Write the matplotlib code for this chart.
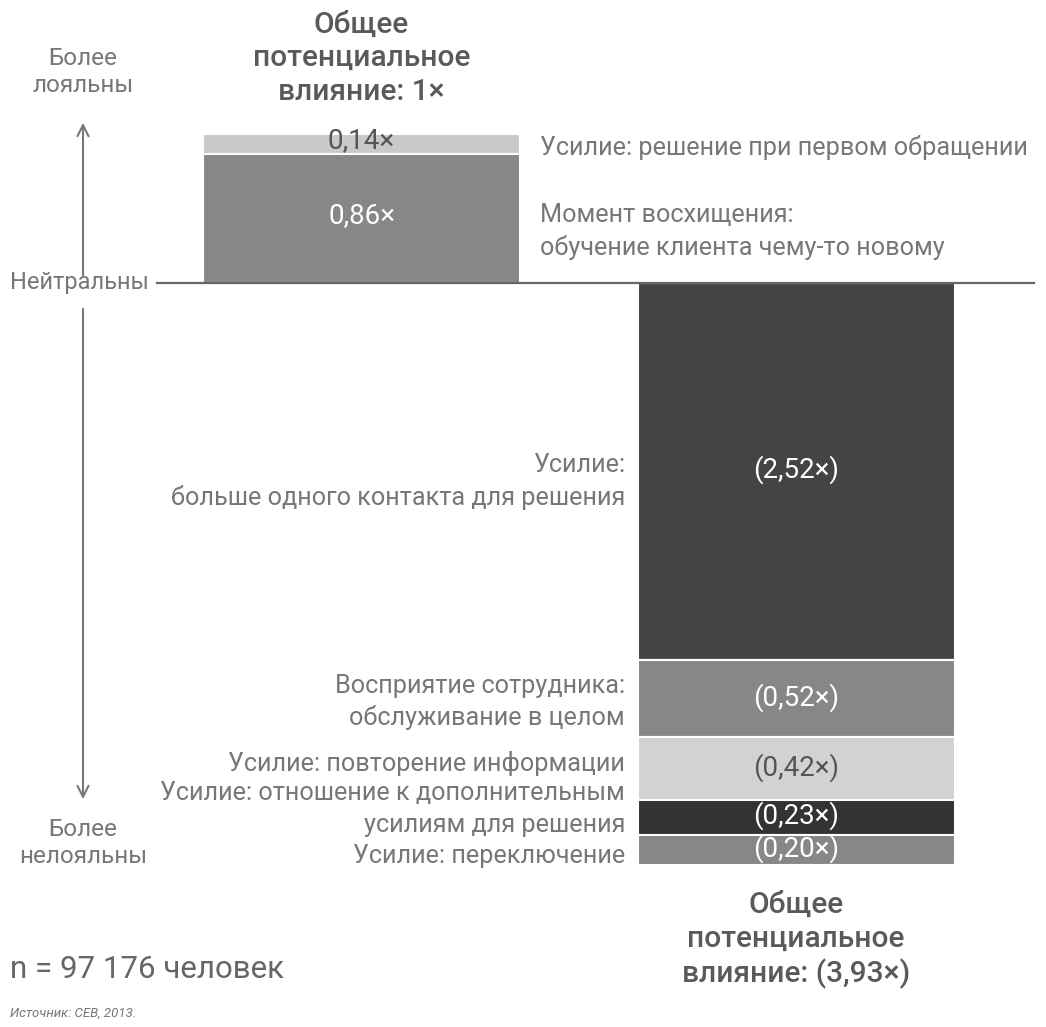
import matplotlib
matplotlib.use("Agg")
import matplotlib.pyplot as plt

# ---- data ----
pos_labels = ["Усилие: решение при первом обращении",
              "Момент восхищения:\nобучение клиента чему-то новому"]
pos_values = [0.14, 0.86]          # listed top to bottom
pos_colors = ["#c9c9c9", "#878787"]
pos_value_text = ["0,14×", "0,86×"]
pos_total_text = "Общее\nпотенциальное\nвлияние: 1×"

neg_labels = ["Усилие:\nбольше одного контакта для решения",
              "Восприятие сотрудника:\nобслуживание в целом",
              "Усилие: повторение информации",
              "Усилие: отношение к дополнительным\nусилиям для решения",
              "Усилие: переключение"]
neg_values = [2.52, 0.52, 0.42, 0.23, 0.20]   # top to bottom
neg_colors = ["#444444", "#878787", "#d2d2d2", "#333333", "#878787"]
neg_value_text = ["(2,52×)", "(0,52×)", "(0,42×)", "(0,23×)", "(0,20×)"]
neg_total_text = "Общее\nпотенциальное\nвлияние: (3,93×)"

plt.rcParams['font.family'] = ['Roboto', 'DejaVu Sans']

W, H = 1046, 1027
fig = plt.figure(figsize=(W / 100, H / 100), dpi=100)
ax = fig.add_axes([0, 0, 1, 1])
PX = 149.5        # pixels per unit
Y0 = 283.0        # pixel row of the neutral line
ax.set_xlim(0, W)
ax.set_ylim(-(H - Y0) / PX, Y0 / PX)
ax.axis("off")


def py(y):
    return (Y0 - y) / PX


TXT = "#777777"
FS = 18.2
VFS = 20

LIGHT = ("#c9c9c9", "#d2d2d2")

# ---- positive bar ----
lx, bw = 361.5, 317
top = sum(pos_values)
for v, c, t in zip(pos_values, pos_colors, pos_value_text):
    bottom = top - v
    ax.bar(lx, v, bottom=bottom, width=bw, color=c, edgecolor="white", linewidth=1.5)
    tc = "#555555" if c in LIGHT else "white"
    ax.text(lx, bottom + v / 2 + 0.02, t, ha="center", va="center",
            color=tc, fontsize=VFS)
    top = bottom

# ---- negative bar ----
rx = 796
top = 0.0
for v, c, t in zip(neg_values, neg_colors, neg_value_text):
    bottom = top - v
    ax.bar(rx, v, bottom=bottom, width=bw, color=c, edgecolor="white", linewidth=1.5)
    tc = "#555555" if c in LIGHT else "white"
    ax.text(rx, bottom + v / 2 + 0.01, t, ha="center", va="center", color=tc, fontsize=VFS)
    top = bottom

# neutral line
ax.plot([157, 1034], [0, 0], color="#666666", lw=1.6, zorder=5)

# ---- side labels ----
pos_label_y = [147, 231]
for lab, y in zip(pos_labels, pos_label_y):
    ax.text(540, py(y), lab, ha="left", va="center", color=TXT, fontsize=FS,
            linespacing=1.4)

neg_label_y = [481, 702, 763, 809, 856]
for lab, y in zip(neg_labels, neg_label_y):
    ax.text(625, py(y), lab, ha="right", va="center", color=TXT, fontsize=FS,
            linespacing=1.4)

# ---- totals ----
ax.text(lx, py(58), pos_total_text, ha="center", va="center", color="#5a5a5a",
        fontsize=21.5, fontweight="medium", linespacing=1.25)
ax.text(rx, py(940), neg_total_text, ha="center", va="center", color="#5a5a5a",
        fontsize=21.5, fontweight="medium", linespacing=1.25)

# ---- left axis ----
ax.text(83, py(72), "Более\nлояльны", ha="center", va="center", color=TXT, fontsize=17.5,
        linespacing=1.2)
ax.text(10, py(283), "Нейтральны", ha="left", va="center", color=TXT, fontsize=17)
ax.text(83, py(843), "Более\nнелояльны", ha="center", va="center", color=TXT, fontsize=17.5,
        linespacing=1.2)
ax.annotate("", xy=(83, py(120)), xytext=(83, py(278)),
            arrowprops=dict(arrowstyle="->", color="#777777", lw=1.5, mutation_scale=20))
ax.annotate("", xy=(83, py(802)), xytext=(83, py(306)),
            arrowprops=dict(arrowstyle="->", color="#777777", lw=1.5, mutation_scale=20))

# ---- footer ----
ax.text(10, py(970), "n = 97 176 человек", ha="left", va="center", color="#666666",
        fontsize=22.5)
ax.text(10, py(1013), "Источник: CEB, 2013.", ha="left", va="center", color="#777777",
        fontsize=9.5, style="italic")

fig.savefig("out.png", dpi=100)
